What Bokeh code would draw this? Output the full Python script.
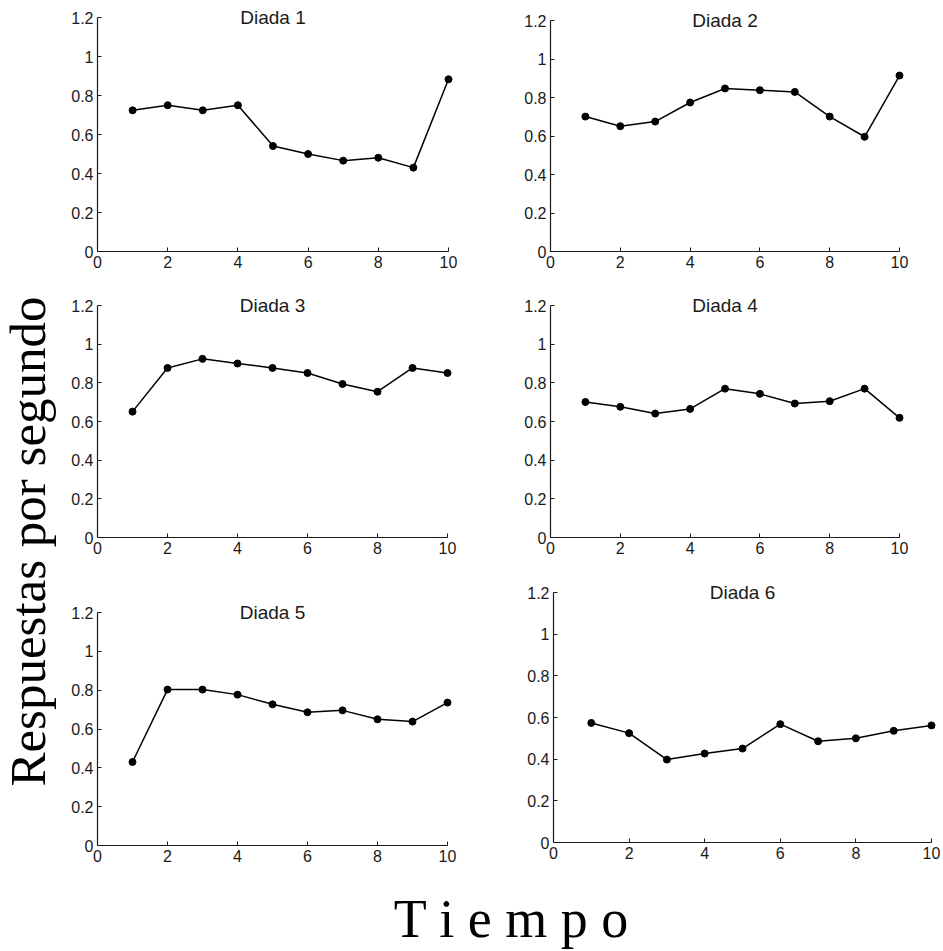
from bokeh.plotting import figure
from bokeh.layouts import row, column
from bokeh.models import Label, FixedTicker, Range1d, Spacer
from bokeh.embed import file_html
from bokeh.resources import INLINE

# ---- data ----
tiempo = [1, 2, 3, 4, 5, 6, 7, 8, 9, 10]
titles = ["Diada 1", "Diada 2", "Diada 3", "Diada 4", "Diada 5", "Diada 6"]
diada1 = [0.724, 0.750, 0.724, 0.750, 0.541, 0.500, 0.466, 0.481, 0.430, 0.883]
diada2 = [0.701, 0.651, 0.675, 0.774, 0.847, 0.838, 0.829, 0.701, 0.596, 0.914]
diada3 = [0.651, 0.877, 0.924, 0.900, 0.877, 0.851, 0.794, 0.754, 0.877, 0.851]
diada4 = [0.701, 0.676, 0.641, 0.665, 0.770, 0.743, 0.693, 0.705, 0.770, 0.619]
diada5 = [0.430, 0.803, 0.803, 0.777, 0.727, 0.686, 0.696, 0.650, 0.638, 0.736]
diada6 = [0.574, 0.525, 0.398, 0.427, 0.451, 0.568, 0.486, 0.500, 0.536, 0.562]
x_ticks = [0, 2, 4, 6, 8, 10]
x_tick_labels = ["0", "2", "4", "6", "8", "10"]
y_ticks = [0, 0.2, 0.4, 0.6, 0.8, 1, 1.2]
y_tick_labels = ["0", "0.2", "0.4", "0.6", "0.8", "1", "1.2"]
ylabel = "Respuestas por segundo"
xlabel = "T i e m p o"

series = [diada1, diada2, diada3, diada4, diada5, diada6]

Y_MAX = 1.2
# layout per panel: (width, height, border_left, border_right, border_top, border_bottom,
#                    pixels between frame top and the 1.2 tick)
geom = [
    (420, 280, 37, 32, 6, 29, 11),
    (463, 280, 70, 44, 6, 29, 14),
    (420, 280, 37, 33, 13, 23, 12),
    (463, 280, 70, 44, 13, 23, 12),
    (420, 300, 37, 33, 20, 35, 12),
    (463, 320, 73, 12, 20, 38, 12),
]

TICK_FONT = "Liberation Sans"
SERIF = "Liberation Serif"
TITLE_PX = 19
INK = "#1a1a1a"


def panel(i):
    w, h, bl, br, bt, bb, pad = geom[i]
    frame_h = h - bt - bb
    data_h = frame_h - pad          # pixels spanned by 0..1.2
    per_px = Y_MAX / data_h
    p = figure(width=w, height=h, output_backend="svg", toolbar_location=None,
               x_range=Range1d(0, 10), y_range=Range1d(0, Y_MAX + pad * per_px),
               min_border_left=bl, min_border_right=br,
               min_border_top=bt, min_border_bottom=bb)
    p.outline_line_color = None
    p.grid.visible = False
    p.background_fill_color = "white"
    p.border_fill_color = "white"
    for ax, ticks, labels in ((p.xaxis[0], x_ticks, x_tick_labels),
                              (p.yaxis[0], y_ticks, y_tick_labels)):
        ax.ticker = FixedTicker(ticks=ticks)
        ax.major_label_overrides = {t: l for t, l in zip(ticks, labels)}
        ax.major_tick_in = 4
        ax.major_tick_out = 0
        ax.minor_tick_line_color = None
        ax.axis_line_color = INK
        ax.axis_line_width = 1.2
        ax.major_tick_line_color = INK
        ax.major_label_text_font = TICK_FONT
        ax.major_label_text_font_size = "16px"
        ax.major_label_text_color = INK
    p.yaxis.bounds = (0, Y_MAX)
    p.xaxis.major_label_standoff = 4
    p.yaxis.major_label_standoff = 4
    r1 = p.line(tiempo, series[i], line_color="black", line_width=1.5)
    r2 = p.scatter(tiempo, series[i], size=7, fill_color="black", line_color="black")
    r1.level = "overlay"
    r2.level = "overlay"
    # title baseline ~6 px below the 1.2 tick (Bokeh draws the baseline ~0.34em low)
    off_px = 6.0 - 0.34 * TITLE_PX
    p.add_layout(Label(x=5, y=Y_MAX - off_px * per_px, text=titles[i],
                       text_align="center", text_baseline="alphabetic",
                       text_font=TICK_FONT, text_font_size=f"{TITLE_PX}px",
                       text_color=INK))
    return p


panels = [panel(i) for i in range(6)]

# y label strip
yl = figure(width=60, height=880, output_backend="svg", toolbar_location=None,
            x_range=Range1d(0, 60), y_range=Range1d(0, 880),
            x_axis_location=None, y_axis_location=None, min_border=0)
yl.outline_line_color = None
yl.grid.visible = False
yl.add_layout(Label(x=27, y=880 - 541, text=ylabel, angle=90, angle_units="deg",
                    text_align="center", text_baseline="alphabetic",
                    text_font=SERIF, text_font_size="51px", text_color="black"))

# x label strip
xl = figure(width=943, height=71, output_backend="svg", toolbar_location=None,
            x_range=Range1d(0, 943), y_range=Range1d(0, 71),
            x_axis_location=None, y_axis_location=None, min_border=0)
xl.outline_line_color = None
xl.grid.visible = False
xl.add_layout(Label(x=511, y=33, text=xlabel,
                    text_align="center", text_baseline="alphabetic",
                    text_font=SERIF, text_font_size="54px", text_color="black"))

grid = column(row(panels[0], panels[1]),
              row(panels[2], panels[3]),
              row(column(Spacer(width=420, height=20), panels[4]), panels[5]))
layout = column(row(yl, grid), xl)

open("out.html", "w").write(file_html(layout, INLINE))
